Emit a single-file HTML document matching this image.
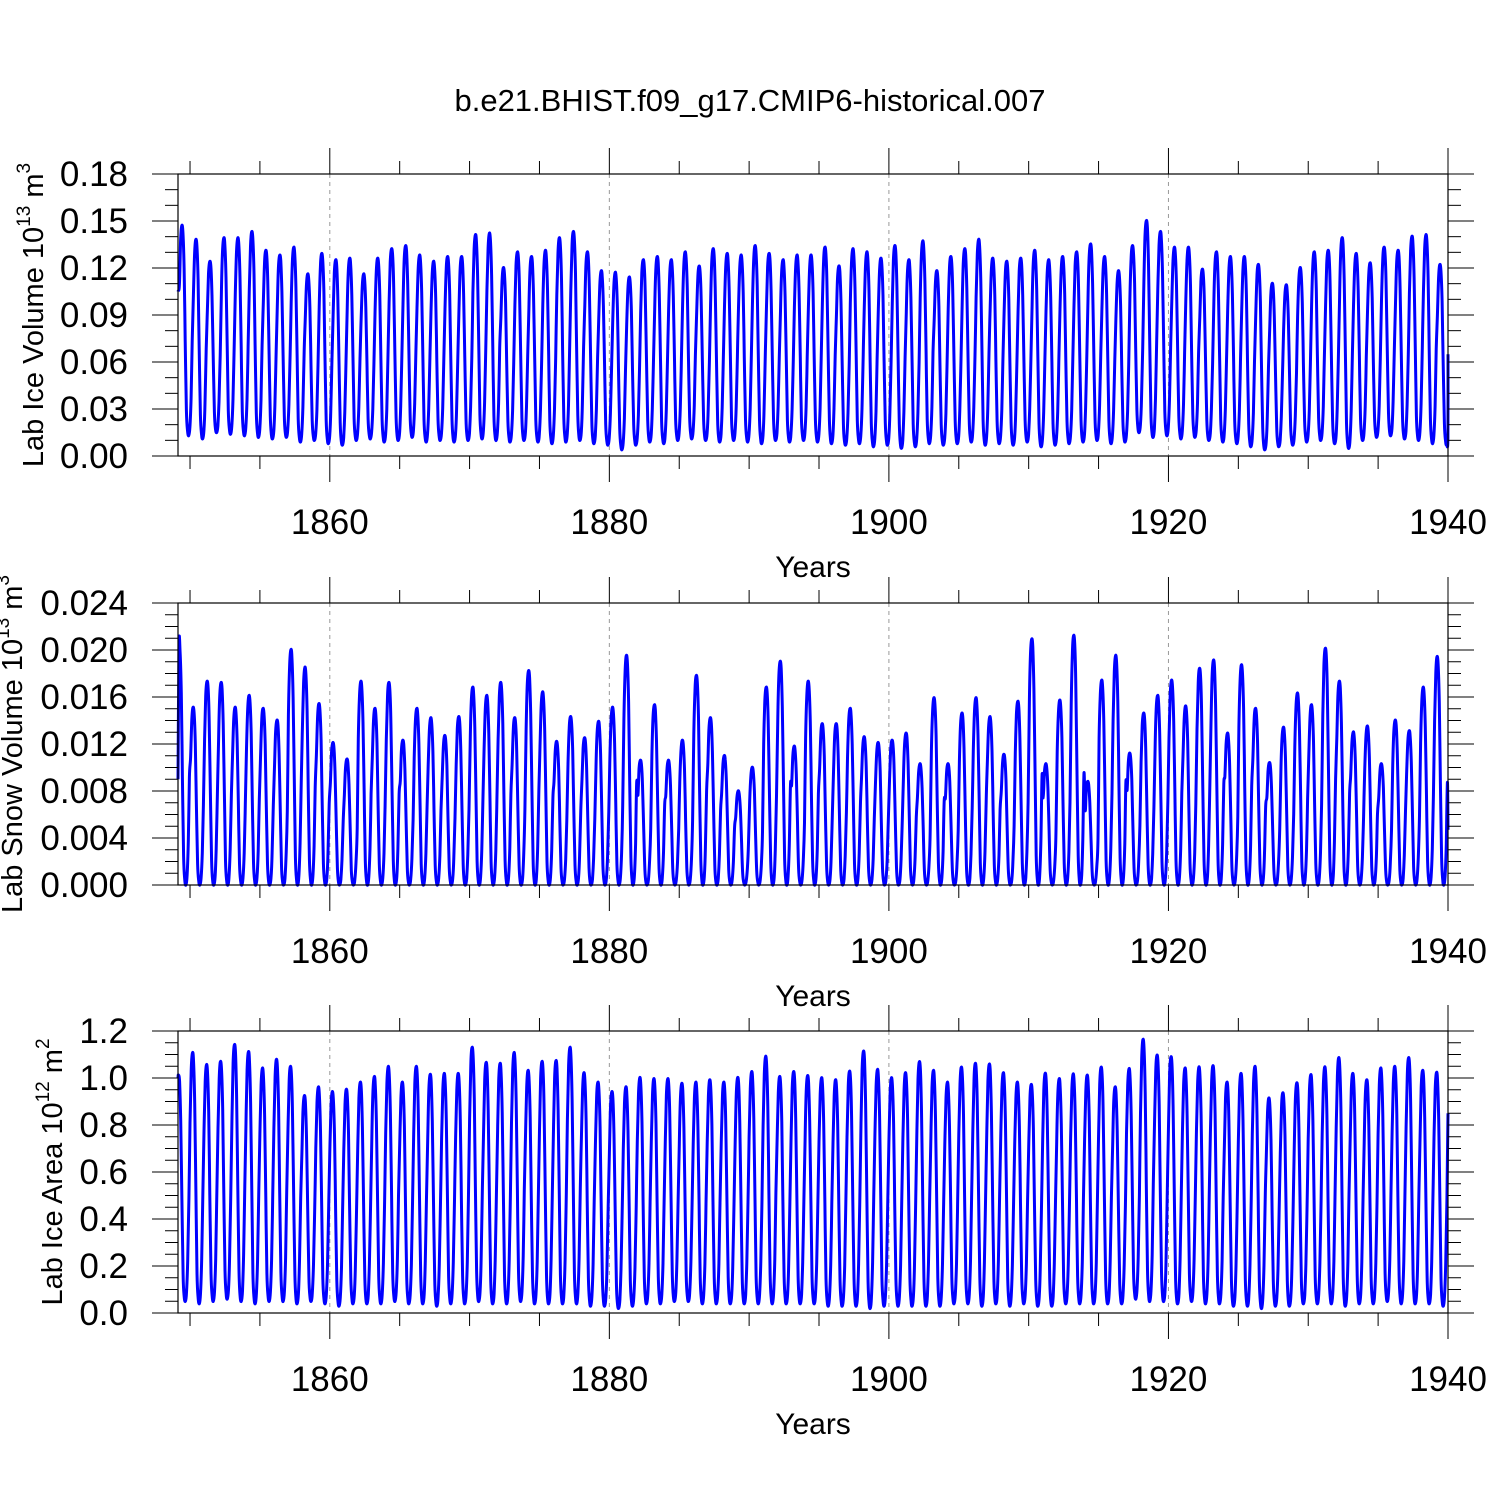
<!DOCTYPE html>
<html><head><meta charset="utf-8"><style>
html,body{margin:0;padding:0;background:#fff;}
svg{display:block;font-family:"Liberation Sans",Arial,sans-serif;}
</style></head><body>
<svg id="chart" width="1500" height="1500" viewBox="0 0 1500 1500" xmlns="http://www.w3.org/2000/svg">
<rect width="1500" height="1500" fill="#fff"/>
<text x="750" y="111" font-size="31" text-anchor="middle">b.e21.BHIST.f09_g17.CMIP6-historical.007</text>
</svg>
<script>
// ---- data ----
const xTickLabels = [1860, 1880, 1900, 1920, 1940];
const monthShape = [0.72, 0.93, 1.0, 0.97, 0.8, 0.45, 0.12, 0.02, 0.0, 0.04, 0.18, 0.45];
const iceVolPeaks = [0.147,0.138,0.124,0.139,0.139,0.143,0.131,0.128,0.133,0.116,0.129,0.125,0.126,0.116,0.126,0.132,0.134,0.128,0.124,0.127,0.127,0.141,0.142,0.120,0.130,0.127,0.131,0.139,0.143,0.130,0.118,0.117,0.114,0.125,0.127,0.125,0.130,0.121,0.132,0.129,0.128,0.134,0.129,0.125,0.128,0.128,0.133,0.121,0.132,0.130,0.126,0.134,0.125,0.137,0.118,0.127,0.132,0.138,0.126,0.124,0.126,0.131,0.125,0.127,0.130,0.135,0.127,0.118,0.134,0.150,0.143,0.133,0.133,0.119,0.130,0.127,0.127,0.122,0.110,0.109,0.120,0.130,0.131,0.139,0.129,0.123,0.133,0.131,0.140,0.141,0.122];
const iceVolMins = [0.013,0.011,0.015,0.014,0.013,0.012,0.011,0.012,0.009,0.010,0.008,0.007,0.010,0.011,0.009,0.010,0.012,0.009,0.010,0.009,0.010,0.011,0.010,0.009,0.010,0.009,0.008,0.009,0.010,0.008,0.007,0.004,0.007,0.009,0.008,0.010,0.011,0.010,0.009,0.010,0.009,0.008,0.010,0.009,0.010,0.009,0.008,0.007,0.008,0.006,0.007,0.005,0.006,0.008,0.007,0.008,0.009,0.007,0.008,0.007,0.009,0.006,0.007,0.008,0.009,0.010,0.008,0.009,0.015,0.012,0.013,0.011,0.012,0.010,0.009,0.008,0.006,0.004,0.006,0.007,0.009,0.010,0.008,0.005,0.010,0.012,0.013,0.011,0.010,0.008,0.007];
const snowPeaks = [0.0204,0.0151,0.0173,0.0172,0.0151,0.0161,0.0150,0.0140,0.0200,0.0185,0.0154,0.0121,0.0107,0.0173,0.0150,0.0172,0.0123,0.0150,0.0142,0.0127,0.0143,0.0168,0.0161,0.0172,0.0142,0.0182,0.0164,0.0122,0.0143,0.0125,0.0139,0.0151,0.0195,0.0106,0.0153,0.0106,0.0123,0.0178,0.0142,0.0110,0.0080,0.0100,0.0168,0.0190,0.0118,0.0173,0.0137,0.0137,0.0150,0.0126,0.0121,0.0123,0.0129,0.0103,0.0159,0.0103,0.0146,0.0159,0.0143,0.0111,0.0156,0.0209,0.0103,0.0157,0.0212,0.0088,0.0174,0.0195,0.0112,0.0146,0.0161,0.0174,0.0152,0.0184,0.0191,0.0129,0.0187,0.0150,0.0104,0.0134,0.0163,0.0153,0.0201,0.0173,0.0130,0.0135,0.0103,0.0140,0.0131,0.0168,0.0194];
const snowMins = [0.0];
const areaPeaks = [1.013,1.106,1.055,1.068,1.14,1.11,1.04,1.077,1.047,0.923,0.96,0.94,0.95,0.98,1.004,1.047,0.98,1.047,1.013,1.017,1.017,1.128,1.064,1.06,1.106,1.03,1.068,1.072,1.128,1.02,0.98,0.94,0.96,1.0,0.995,0.995,0.975,0.98,0.99,0.98,1.0,1.025,1.09,1.004,1.025,1.008,0.999,0.99,1.027,1.112,1.034,0.999,1.02,1.067,1.03,0.98,1.044,1.06,1.057,1.02,0.98,0.97,1.018,0.995,1.015,1.01,1.044,0.96,1.038,1.162,1.095,1.088,1.04,1.045,1.05,0.98,1.017,1.047,0.913,0.935,0.977,1.012,1.045,1.084,1.017,0.99,1.04,1.047,1.084,1.03,1.022];
const areaMins = [0.05,0.04,0.05,0.06,0.05,0.04,0.05,0.05,0.04,0.05,0.04,0.03,0.04,0.04,0.04,0.05,0.04,0.04,0.03,0.04,0.04,0.05,0.04,0.04,0.05,0.04,0.04,0.04,0.04,0.03,0.03,0.02,0.03,0.04,0.04,0.05,0.05,0.04,0.04,0.04,0.04,0.04,0.04,0.04,0.04,0.04,0.03,0.03,0.03,0.02,0.03,0.03,0.03,0.03,0.03,0.04,0.04,0.03,0.04,0.03,0.04,0.03,0.03,0.04,0.04,0.04,0.04,0.04,0.06,0.05,0.05,0.04,0.05,0.04,0.04,0.03,0.03,0.02,0.03,0.03,0.04,0.04,0.04,0.03,0.04,0.04,0.05,0.04,0.04,0.04,0.03];
const startYear = 1849;

// ---- layout ----
const svg = document.getElementById('chart');
const NS = 'http://www.w3.org/2000/svg';
const X0 = 178, X1 = 1448, XMIN = 1849.14, XMAX = 1940;
const xs = v => X0 + (v - XMIN) / (XMAX - XMIN) * (X1 - X0);
function mk(tag, attrs, parent) {
  const e = document.createElementNS(NS, tag);
  for (const k in attrs) e.setAttribute(k, attrs[k]);
  (parent || svg).appendChild(e);
  return e;
}
const panels = [
  {key:'ice-volume', top:174, bot:456, ymax:0.18, major:0.03, minor:0.01, dec:2, peaks:iceVolPeaks, mins:iceVolMins, endVal:0.065, startVal:0.105, off:0.2,
   title:['Lab Ice Volume 10','13',' m','3'], tx:33},
  {key:'snow-volume', top:603, bot:885, ymax:0.024, major:0.004, minor:0.001, dec:3, peaks:snowPeaks, mins:snowMins, endVal:0.0047, startVal:0.009, off:0,
   title:['Lab Snow Volume 10','13',' m','3'], tx:12},
  {key:'ice-area', top:1031, bot:1313, ymax:1.2, major:0.2, minor:0.05, dec:1, peaks:areaPeaks, mins:areaMins, endVal:0.85, startVal:1.0, off:-0.04,
   title:['Lab Ice Area 10','12',' m','2'], tx:52}
];
panels.forEach(p => {
  const g = mk('g', {});
  
  
  const ys = v => p.bot - v / p.ymax * (p.bot - p.top);
  xTickLabels.slice(0, 4).forEach(yr => {
    const l = mk('line', {x1:xs(yr), x2:xs(yr), y1:p.top, y2:p.bot, stroke:'#999', 'stroke-width':1, 'stroke-dasharray':'4,4'}, g);
    
    
  });
  let pts = [[XMIN, p.startVal]];
  for (let i = 0; i < p.peaks.length; i++) {
    const mn = p.mins[i % p.mins.length] || 0;
    for (let m = 0; m < 12; m++) {
      const t = startYear + i + (m + 0.5) / 12 + p.off;
      if (t <= XMIN + 0.02 || t >= XMAX) continue;
      pts.push([t, mn + (p.peaks[i] - mn) * monthShape[m]]);
    }
  }
  pts.push([XMAX, p.endVal]);
  const P = pts.map(q => [xs(q[0]), ys(q[1])]);
  let d = 'M' + P[0][0].toFixed(1) + ',' + P[0][1].toFixed(1);
  for (let i = 0; i < P.length - 1; i++) {
    const p0 = P[Math.max(0, i - 1)], p1 = P[i], p2 = P[i + 1], p3 = P[Math.min(P.length - 1, i + 2)];
    const c1 = [p1[0] + (p2[0] - p0[0]) / 6, p1[1] + (p2[1] - p0[1]) / 6];
    const c2 = [p2[0] - (p3[0] - p1[0]) / 6, p2[1] - (p3[1] - p1[1]) / 6];
    d += 'C' + c1[0].toFixed(1) + ',' + c1[1].toFixed(1) + ' ' + c2[0].toFixed(1) + ',' + c2[1].toFixed(1) + ' ' + p2[0].toFixed(1) + ',' + p2[1].toFixed(1);
  }
  const line = mk('path', {d:d, fill:'none', stroke:'#0000ff', 'stroke-width':3, 'stroke-linejoin':'round'}, g);
  
  
  const fr = mk('rect', {x:X0, y:p.top, width:X1 - X0, height:p.bot - p.top, fill:'none', stroke:'#000', 'stroke-width':1.2}, g);
  
  
  for (let yr = 1850; yr <= 1940; yr += 5) {
    const maj = yr % 20 === 0;
    const len = maj ? 26 : 13;
    mk('line', {x1:xs(yr), x2:xs(yr), y1:p.bot, y2:p.bot + len, stroke:'#000', 'stroke-width':1}, g);
    mk('line', {x1:xs(yr), x2:xs(yr), y1:p.top, y2:p.top - len, stroke:'#000', 'stroke-width':1}, g);
  }
  xTickLabels.forEach(yr => {
    const t = mk('text', {x:xs(yr), y:p.bot + 78, 'font-size':35, 'text-anchor':'middle'}, g);
    t.textContent = yr;
    
    
  });
  const xt = mk('text', {x:813, y:p.bot + 121, 'font-size':30, 'text-anchor':'middle'}, g);
  xt.textContent = 'Years';
  
  
  const nMin = Math.round(p.ymax / p.minor);
  const ratio = Math.round(p.major / p.minor);
  for (let k = 0; k <= nMin; k++) {
    const v = k * p.minor, y = ys(v), maj = k % ratio === 0, len = maj ? 26 : 13;
    mk('line', {x1:X0 - len, x2:X0, y1:y, y2:y, stroke:'#000', 'stroke-width':1}, g);
    mk('line', {x1:X1, x2:X1 + len, y1:y, y2:y, stroke:'#000', 'stroke-width':1}, g);
    if (maj) {
      const t = mk('text', {x:128, y:y + 12, 'font-size':35, 'text-anchor':'end'}, g);
      t.textContent = v.toFixed(p.dec);
      
      
    }
  }
  const cy = (p.top + p.bot) / 2;
  const yt = mk('text', {x:0, y:0, 'font-size':29, 'text-anchor':'middle', transform:'translate(' + (p.tx + 10) + ',' + cy + ') rotate(-90)'}, g);
  
  
  const parts = p.title;
  const s1 = mk('tspan', {}, yt); s1.textContent = parts[0];
  const s2 = mk('tspan', {dy:-13, 'font-size':19}, yt); s2.textContent = parts[1];
  const s3 = mk('tspan', {dy:13}, yt); s3.textContent = parts[2];
  const s4 = mk('tspan', {dy:-13, 'font-size':19}, yt); s4.textContent = parts[3];
});
</script>
</body></html>
